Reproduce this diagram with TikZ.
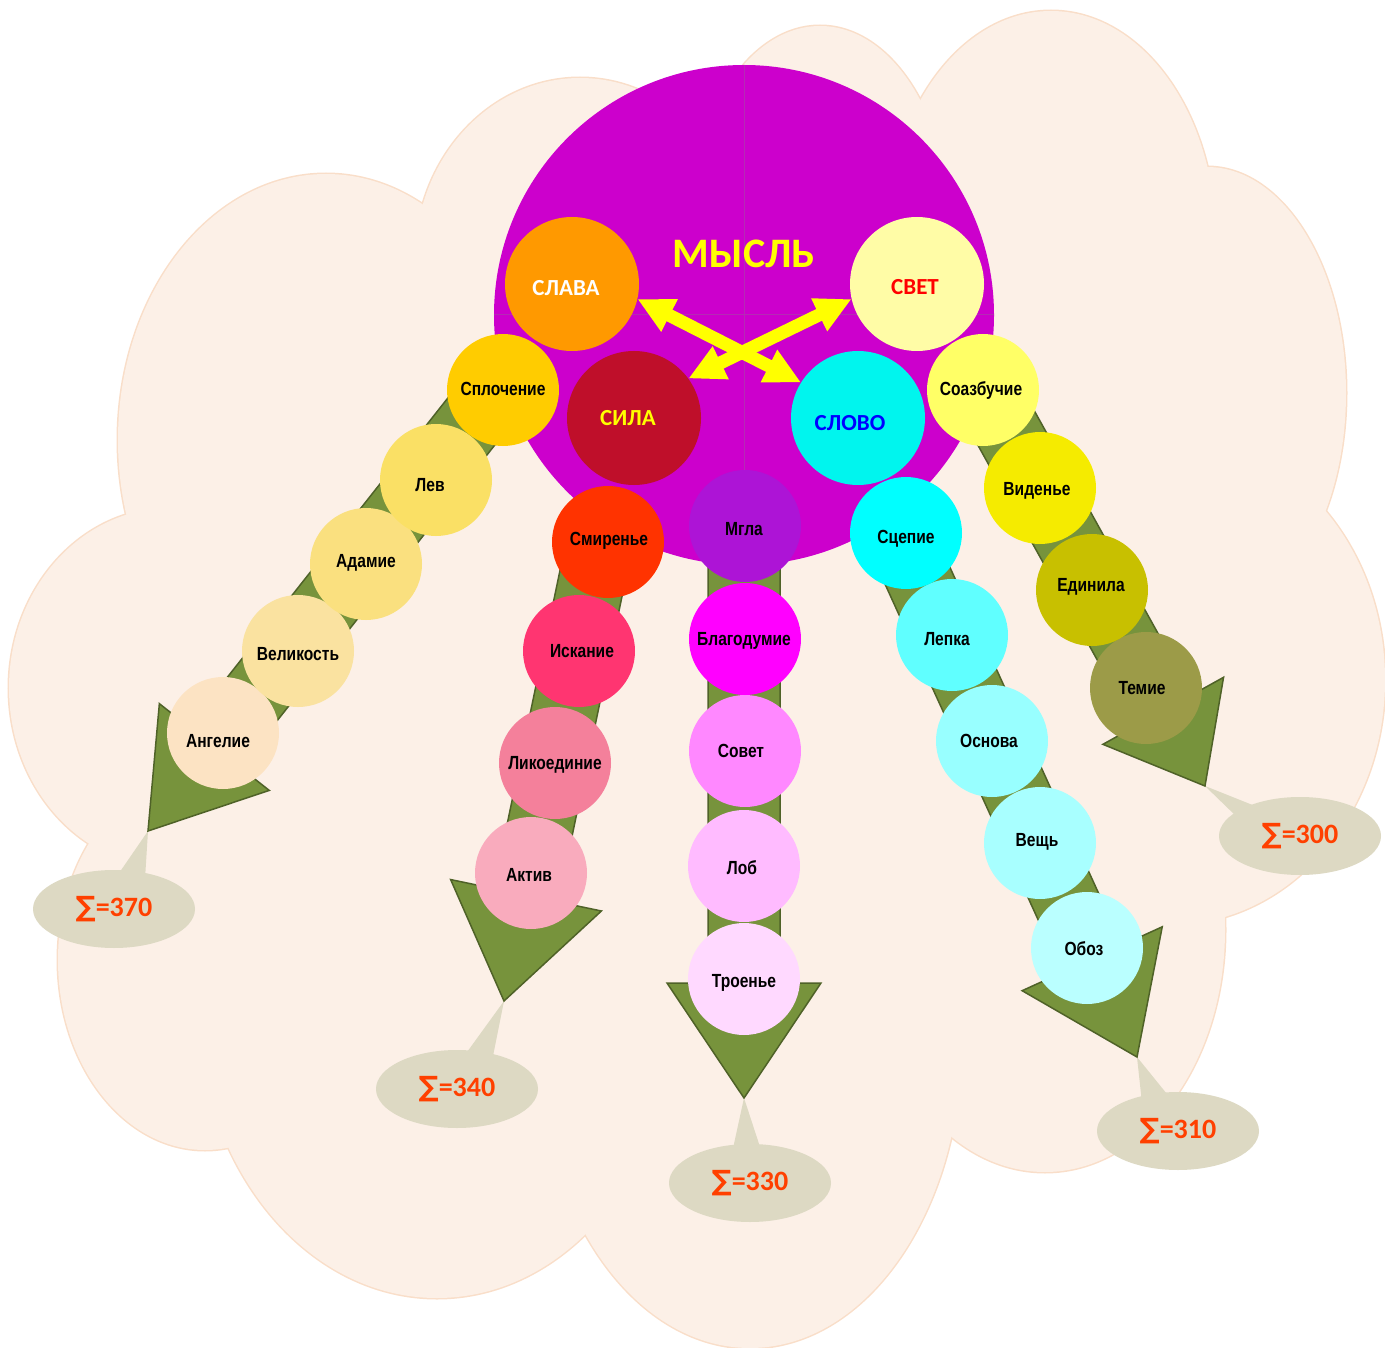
\documentclass[tikz,border=0pt]{standalone}
\usepackage{fontspec}
\setmainfont{Liberation Sans}
\newfontfamily\calfont{Carlito}
\newfontfamily\narrowfont[FakeStretch=0.82]{Liberation Sans}
\newfontfamily\dvfont{DejaVu Sans}
\usetikzlibrary{shapes.geometric,arrows.meta,calc}
\definecolor{cloudf}{HTML}{FCF0E7}
\definecolor{cloudd}{HTML}{F9DEC9}
\definecolor{purp}{HTML}{CC00CC}
\definecolor{crossc}{HTML}{B52AB5}
\definecolor{cslava}{HTML}{FF9900}
\definecolor{csvet}{HTML}{FFFCA6}
\definecolor{csila}{HTML}{BF0F2A}
\definecolor{cslovo}{HTML}{00F5EE}
\definecolor{csplo}{HTML}{FFCC00}
\definecolor{clev}{HTML}{FAE065}
\definecolor{cadam}{HTML}{FAE07F}
\definecolor{cvelik}{HTML}{FAE2A0}
\definecolor{cangel}{HTML}{FCE3C3}
\definecolor{csmir}{HTML}{FF3300}
\definecolor{ciskan}{HTML}{FF3571}
\definecolor{clikoe}{HTML}{F4809B}
\definecolor{caktiv}{HTML}{F9ABBD}
\definecolor{cmgla}{HTML}{AD14D6}
\definecolor{cblago}{HTML}{FF00FF}
\definecolor{csovet}{HTML}{FF88FF}
\definecolor{clob}{HTML}{FFBBFF}
\definecolor{ctroen}{HTML}{FFD9FF}
\definecolor{cscep}{HTML}{00FFFF}
\definecolor{clepka}{HTML}{60FFFF}
\definecolor{cosnova}{HTML}{98FFFF}
\definecolor{cvesch}{HTML}{A8FFFF}
\definecolor{coboz}{HTML}{BAFFFF}
\definecolor{csoaz}{HTML}{FFFF66}
\definecolor{cviden}{HTML}{F5EB00}
\definecolor{cedin}{HTML}{C8C000}
\definecolor{ctemie}{HTML}{9C9B48}
\definecolor{callc}{HTML}{DDD9C3}
\definecolor{sumc}{HTML}{FF4000}
\definecolor{arrowg}{HTML}{77933C}
\definecolor{arrowd}{HTML}{4F6228}
\newcommand\blockarrow[5]{%
  \coordinate (ba-B) at ($(#2)!#3pt!(#1)$);
  \draw[greenarrow] ($(#1)!#5pt!90:(#2)$) -- ($(ba-B)!#5pt!90:(#2)$) -- ($(ba-B)!#4pt!90:(#2)$) -- (#2) -- ($(ba-B)!#4pt!-90:(#2)$) -- ($(ba-B)!#5pt!-90:(#2)$) -- ($(#1)!#5pt!-90:(#2)$) -- cycle;}
\begin{document}
\begin{tikzpicture}[x=1pt,y=-1pt,
  cloudline/.style={draw=cloudd, line width=3pt},
  cloudfill/.style={fill=cloudf},
  greenarrow/.style={fill=arrowg, draw=arrowd, line width=1.5pt, line join=miter},
  ball/.style={circle, inner sep=0pt, minimum size=112pt, draw=none},
  bigball/.style={circle, inner sep=0pt, minimum size=134pt, draw=none},
  lbl/.style={font=\narrowfont\bfseries\fontsize{19}{22}\selectfont, text=black, inner sep=0pt},
  mainlbl/.style={font=\calfont\bfseries\fontsize{23}{26}\selectfont, inner sep=0pt},
  callout/.style={ellipse, fill=callc, minimum width=162pt, minimum height=78pt, inner sep=0pt,
     font=\calfont\bfseries\fontsize{28}{32}\selectfont, text=sumc},
  wedge/.style={fill=callc},
  yarrow/.style={draw={rgb,255:red,255;green,255;blue,0}, line width=13pt,
     {Triangle[length=36pt,width=34pt]}-{Triangle[length=36pt,width=34pt]}},
  crossl/.style={draw=crossc, line width=1pt}
]
\useasboundingbox (0,0) rectangle (1385,1348);
% cloud
\foreach \cx/\cy/\rx/\ry in {170/688/161/180, 205/960/147/190, 326/440/208/266, 580/260/165/182,
   820/230/130/204, 1051/240/165/229, 1207/393/139/226, 1170/680/215/245, 1045/930/180/242,
   750/1040/212/308, 437/1000/240/298}
  \draw[cloudline] (\cx,\cy) ellipse [x radius=\rx pt, y radius=\ry pt];
\foreach \cx/\cy/\rx/\ry in {170/688/161/180, 205/960/147/190, 326/440/208/266, 580/260/165/182,
   820/230/130/204, 1051/240/165/229, 1207/393/139/226, 1170/680/215/245, 1045/930/180/242,
   750/1040/212/308, 437/1000/240/298}
  \fill[cloudfill] (\cx,\cy) ellipse [x radius=\rx pt, y radius=\ry pt];
\fill[cloudfill] (700,620) circle [radius=480pt];

% arrow geometry
\coordinate (s1) at (497,389);  \coordinate (t1) at (148,831);
\coordinate (s2) at (599,545);  \coordinate (t2) at (504,1001);
\coordinate (s3) at (744,530);  \coordinate (t3) at (744,1098);
\coordinate (s4) at (898,533);  \coordinate (t4) at (1137,1057);
\coordinate (s5) at (985,390);  \coordinate (t5) at (1205,786);

% callouts
\node[callout] (c370) at (114,909) {{\dvfont ∑}=370};
\node[callout] (c340) at (457,1089) {{\dvfont ∑}=340};
\node[callout] (c330) at (750,1183) {{\dvfont ∑}=330};
\node[callout] (c310) at (1178,1131) {{\dvfont ∑}=310};
\node[callout] (c300) at (1300,836) {{\dvfont ∑}=300};
\fill[wedge] (t1) -- ($(c370)+(1,-30)$) -- ($(c370)+(31,-30)$) -- cycle;
\fill[wedge] (t2) -- ($(c340)+(5,-30)$) -- ($(c340)+(35,-28)$) -- cycle;
\fill[wedge] (t3) -- ($(c330)+(-18,-30)$) -- ($(c330)+(12,-30)$) -- cycle;
\fill[wedge] (t4) -- ($(c310)+(-36,-28)$) -- ($(c310)+(-7,-32)$) -- cycle;
\fill[wedge] (t5) -- ($(c300)+(-62,-18)$) -- ($(c300)+(-40,-28)$) -- cycle;

% green block arrows
\blockarrow{s1}{t1}{107}{70}{33}
\blockarrow{s2}{t2}{108}{77}{33}
\blockarrow{s3}{t3}{115}{77}{36}
\blockarrow{s4}{t4}{108}{77}{33}
\blockarrow{s5}{t5}{86}{69}{33}

% main circle
\node[circle, fill=purp, minimum size=500pt, inner sep=0pt] (mysl) at (744,315) {};
\draw[crossl] (mysl.north) -- (mysl.south);
\draw[crossl] (mysl.west) -- (mysl.east);
\node[font=\calfont\bfseries\fontsize{42}{46}\selectfont, text={rgb,255:red,255;green,255;blue,0}, inner sep=0pt] (tmysl) at (744,254) {МЫСЛЬ};

\node[bigball, fill=cslava] (slava) at (572,284) {};
\node[bigball, fill=csvet] (svet) at (917,284) {};
\node[bigball, fill=csila] (sila) at (634,418) {};
\node[bigball, fill=cslovo] (slovo) at (858,418) {};
\node[mainlbl, text=white] (tslava) at (566,288) {СЛАВА};
\node[mainlbl, text={rgb,255:red,255;green,0;blue,0}] (tsvet) at (915,287) {СВЕТ};
\node[mainlbl, text={rgb,255:red,255;green,255;blue,0}] (tsila) at (628,418) {СИЛА};
\node[mainlbl, text={rgb,255:red,0;green,0;blue,255}] (tslovo) at (850,423) {СЛОВО};

\draw[yarrow] (slava.-13) -- (slovo.148);
\draw[yarrow] (svet.193) -- (sila.36);

% chain 1
\node[ball, fill=cangel] (angel) at (223,733) {};
\node[ball, fill=cvelik] (velik) at (298,651) {};
\node[ball, fill=cadam] (adam) at (366,564) {};
\node[ball, fill=clev] (lev) at (436,480) {};
\node[ball, fill=csplo] (splo) at (503,390) {};
% chain 2
\node[ball, fill=caktiv] (aktiv) at (531,873) {};
\node[ball, fill=clikoe] (likoe) at (555,763) {};
\node[ball, fill=ciskan] (iskan) at (579,651) {};
\node[ball, fill=csmir] (smir) at (608,542) {};
% chain 3
\node[ball, fill=ctroen] (troen) at (744,979) {};
\node[ball, fill=clob] (lob) at (744,866) {};
\node[ball, fill=csovet] (sovet) at (745,751) {};
\node[ball, fill=cblago] (blago) at (745,639) {};
\node[ball, fill=cmgla] (mgla) at (745,526) {};
% chain 4
\node[ball, fill=coboz] (oboz) at (1087,948) {};
\node[ball, fill=cvesch] (vesch) at (1040,843) {};
\node[ball, fill=cosnova] (osnova) at (992,741) {};
\node[ball, fill=clepka] (lepka) at (952,635) {};
\node[ball, fill=cscep] (scep) at (906,533) {};
% chain 5
\node[ball, fill=ctemie] (temie) at (1146,688) {};
\node[ball, fill=cedin] (edin) at (1092,590) {};
\node[ball, fill=cviden] (viden) at (1040,488) {};
\node[ball, fill=csoaz] (soaz) at (983,390) {};

% labels
\node[lbl] (lsplo) at (503,389) {Сплочение};
\node[lbl] (llev) at (430,485) {Лев};
\node[lbl] (ladam) at (366,563) {Адамие};
\node[lbl] (lvelik) at (298,654) {Великость};
\node[lbl] (langel) at (218,741) {Ангелие};
\node[lbl] (lsmir) at (609,541) {Смиренье};
\node[lbl] (liskan) at (582,651) {Искание};
\node[lbl] (llikoe) at (555,765) {Ликоединие};
\node[lbl] (laktiv) at (529,875) {Актив};
\node[lbl] (lmgla) at (744,529) {Мгла};
\node[lbl] (lblago) at (744,641) {Благодумие};
\node[lbl] (lsovet) at (741,751) {Совет};
\node[lbl] (llob) at (742,868) {Лоб};
\node[lbl] (ltroen) at (744,983) {Троенье};
\node[lbl] (lscep) at (906,539) {Сцепие};
\node[lbl] (llepka) at (947,639) {Лепка};
\node[lbl] (losnova) at (989,741) {Основа};
\node[lbl] (lvesch) at (1037,842) {Вещь};
\node[lbl] (loboz) at (1084,949) {Обоз};
\node[lbl] (lsoaz) at (981,391) {Соазбучие};
\node[lbl] (lviden) at (1037,491) {Виденье};
\node[lbl] (ledin) at (1091,587) {Единила};
\node[lbl] (ltemie) at (1142,688) {Темие};
\end{tikzpicture}
\end{document}
